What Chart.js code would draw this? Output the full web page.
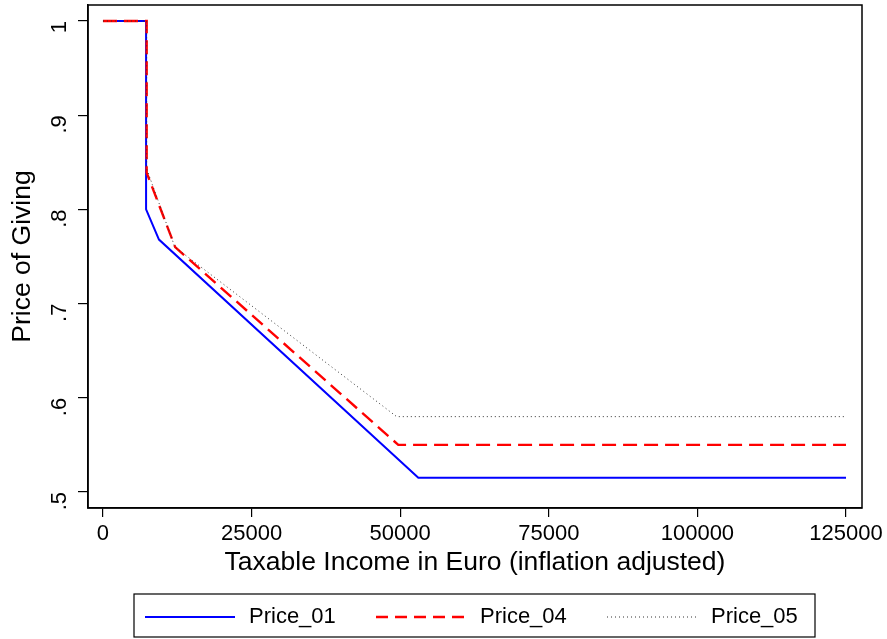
<!DOCTYPE html>
<html>
<head>
<meta charset="utf-8">
<script src="https://cdn.jsdelivr.net/npm/chart.js@4"></script>
<style>
  html, body { margin: 0; padding: 0; background: #fff; }
  #wrap { width: 887px; height: 639px; }
</style>
</head>
<body>
<div id="wrap"><canvas id="chart" width="887" height="639"></canvas></div>
<script>
// Werte
const income01 = [0, 7250, 7250, 9420, 53050, 125000];
const price01  = [1, 1, 0.800, 0.768, 0.515, 0.515];
const income04 = [0, 7350, 7350, 12140, 49680, 125000];
const price04  = [1, 1, 0.839, 0.760, 0.550, 0.550];
const income05 = [0, 7350, 7350, 12100, 49400, 125000];
const price05  = [1, 1, 0.843, 0.760, 0.580, 0.580];
const seriesNames = ['Price_01', 'Price_04', 'Price_05'];
const xTicks = [0, 25000, 50000, 75000, 100000, 125000];
const yTicks = [0.5, 0.6, 0.7, 0.8, 0.9, 1];

const FONT = 'Liberation Sans, Arial, sans-serif';

function pts(xs, ys) {
    return xs.map((x, i) => ({ x: x, y: ys[i] }));
}

// Rahmen um die Plotfläche
const boxPlugin = {
    id: 'box',
    afterDraw(chart) {
        const a = chart.chartArea, ctx = chart.ctx;
        ctx.save();
        ctx.strokeStyle = '#000';
        ctx.lineWidth = 1.5;
        ctx.strokeRect(a.left, a.top, a.right - a.left, a.bottom - a.top);
        ctx.restore();
    }
};

// Legende im Kasten unten (Stata-Stil)
const legendBoxPlugin = {
    id: 'legendBox',
    afterDraw(chart) {
        const ctx = chart.ctx;
        const bx = 134, by = 594, bw = 681, bh = 43;
        ctx.save();
        ctx.strokeStyle = '#000';
        ctx.lineWidth = 1.2;
        ctx.strokeRect(bx, by, bw, bh);
        const cy = by + 23;
        chart.data.datasets.forEach((ds, i) => {
            const x0 = 145 + i * 231;
            ctx.beginPath();
            ctx.strokeStyle = ds.borderColor;
            ctx.lineWidth = ds.borderWidth;
            ctx.setLineDash(i === 1 ? [12, 7] : (ds.borderDash || []));
            ctx.moveTo(x0, cy);
            ctx.lineTo(x0 + 90, cy);
            ctx.stroke();
            ctx.setLineDash([]);
            ctx.fillStyle = '#000';
            ctx.font = '22px ' + FONT;
            ctx.textBaseline = 'middle';
            ctx.fillText(ds.label, x0 + 104, cy);
        });
        ctx.restore();
    }
};

new Chart(document.getElementById('chart'), {
    type: 'line',
    data: {
        datasets: [
            { label: seriesNames[0], data: pts(income01, price01), borderColor: '#0000ff', borderWidth: 2, pointRadius: 0, tension: 0, order: 2 },
            { label: seriesNames[1], data: pts(income04, price04), borderColor: '#ff0000', borderWidth: 2.4, borderDash: [14, 7], pointRadius: 0, tension: 0, order: 1 },
            { label: seriesNames[2], data: pts(income05, price05), borderColor: '#333333', borderWidth: 1, borderDash: [1, 3], pointRadius: 0, tension: 0, order: 0 }
        ]
    },
    options: {
        responsive: false,
        animation: false,
        layout: { padding: { left: 0, right: 25, top: 5, bottom: 0 } },
        plugins: {
            legend: { display: false },
            tooltip: { enabled: false }
        },
        scales: {
            x: {
                type: 'linear',
                min: -2520,
                max: 127690,
                afterBuildTicks: (s) => { s.ticks = xTicks.map(v => ({ value: v })); },
                afterFit: (s) => { s.height = 131; s.paddingLeft = 0; s.paddingRight = 0; },
                ticks: {
                    color: '#000',
                    font: { family: FONT, size: 22 },
                    padding: 4,
                    maxRotation: 0,
                    callback: (v) => String(v)
                },
                grid: { drawOnChartArea: false, drawTicks: true, tickLength: 9, color: '#000', lineWidth: 1.2 },
                border: { display: true, color: '#000', width: 1.5 },
                title: {
                    display: true,
                    text: 'Taxable Income in Euro (inflation adjusted)',
                    color: '#000',
                    font: { family: FONT, size: 26.5 },
                    padding: { top: 0, bottom: 60 }
                }
            },
            y: {
                type: 'linear',
                min: 0.483,
                max: 1.017,
                afterBuildTicks: (s) => { s.ticks = yTicks.map(v => ({ value: v })); },
                afterFit: (s) => { s.width = 88; s.paddingTop = 0; s.paddingBottom = 0; },
                ticks: {
                    color: '#000',
                    font: { family: FONT, size: 22 },
                    padding: 18,
                    minRotation: 90,
                    maxRotation: 90,
                    callback: (v) => {
                        const r = Math.round(v * 10) / 10;
                        return r === 1 ? '1' : String(r).replace(/^0/, '');
                    }
                },
                grid: { drawOnChartArea: false, drawTicks: true, tickLength: 10, color: '#000', lineWidth: 1.2 },
                border: { display: true, color: '#000', width: 1.5 },
                title: {
                    display: true,
                    text: 'Price of Giving',
                    color: '#000',
                    font: { family: FONT, size: 26.5 },
                    padding: { top: 7, bottom: 0 }
                }
            }
        }
    },
    plugins: [boxPlugin, legendBoxPlugin]
});
</script>
</body>
</html>
